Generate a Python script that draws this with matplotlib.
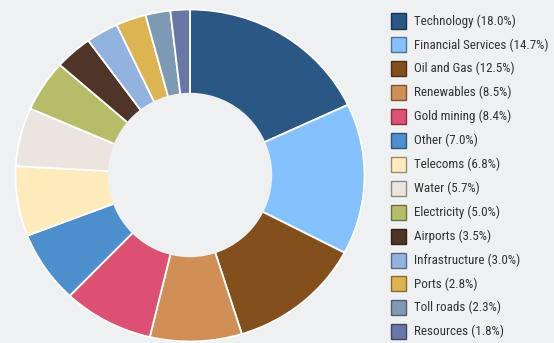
import numpy as np
import matplotlib
matplotlib.use("Agg")
import matplotlib.pyplot as plt
from matplotlib.patches import Rectangle, Ellipse
from matplotlib.colors import to_rgb

# ── Data ──────────────────────────────────────────────────────────────────────
sectors = ["Technology", "Financial Services", "Oil and Gas", "Renewables",
           "Gold mining", "Other", "Telecoms", "Water", "Electricity",
           "Airports", "Infrastructure", "Ports", "Toll roads", "Resources"]
shares = [18.0, 14.7, 12.5, 8.5, 8.4, 7.0, 6.8, 5.7, 5.0, 3.5, 3.0, 2.8, 2.3, 1.8]
colors = ["#2a5783", "#85c1fd", "#824f1d", "#cf8f55", "#dc5073", "#4d8fcc",
          "#ffebbb", "#ece4df", "#b6bc67", "#4f3528", "#92b3e0", "#dcb452",
          "#7e99b4", "#6a76a5"]

BG = "#eff0f2"
FONT = ["Roboto Condensed", "DejaVu Sans"]
W, H = 554, 343
fig = plt.figure(figsize=(W / 100, H / 100), dpi=100, facecolor=BG)

# ── Donut (outer edge slightly wider than tall, hole round) ──────────────────
cx, cy = 190.0, 175.5        # pixels from top-left
rx, ry = 174.5, 166.0        # outer radii in pixels
r_in = 82.2                  # hole radius in pixels
ax = fig.add_axes([(cx - rx) / W, (H - cy - ry) / H, 2 * rx / W, 2 * ry / H])
ax.set_facecolor(BG)
ax.pie(shares, colors=colors, startangle=90, counterclock=False, radius=1.0,
       wedgeprops=dict(edgecolor="white", linewidth=1.3))
ax.add_patch(Ellipse((0, 0.003), 2 * r_in / rx, 2 * r_in / ry,
                     facecolor=BG, edgecolor="none", zorder=5))
ax.set_xlim(-1, 1)
ax.set_ylim(-1, 1)
ax.set_aspect("auto")
ax.axis("off")

# ── Legend ────────────────────────────────────────────────────────────────────
y0, dy = 21.0, 23.9
for i, (name, val, c) in enumerate(zip(sectors, shares, colors)):
    yc = y0 + i * dy
    edge = tuple(np.array(to_rgb(c)) * 0.6)
    fig.add_artist(Rectangle((391 / W, (H - yc - 7.5) / H), 15 / W, 15 / H,
                             transform=fig.transFigure, facecolor=c,
                             edgecolor=edge, linewidth=1.0))
    fig.text(414 / W, (H - yc) / H, f"{name} ({val:.1f}%)",
             ha="left", va="center", fontsize=9.4, color="#333333",
             family=FONT)

fig.savefig("out.png", dpi=100, facecolor=BG)
